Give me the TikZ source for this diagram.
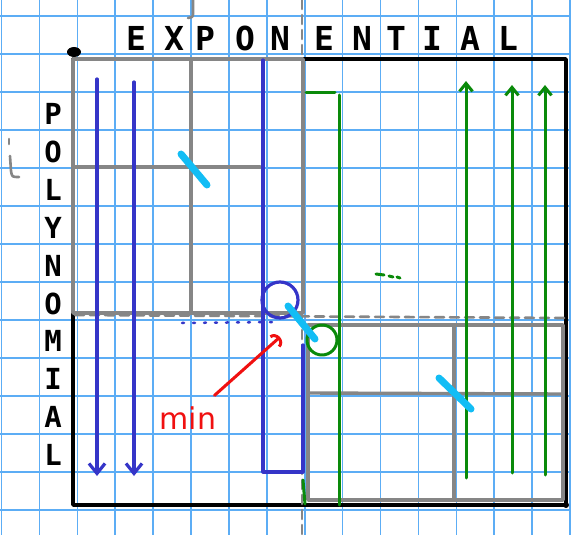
\documentclass[tikz,border=0pt]{standalone}
\usepackage{fontspec}
\usepackage{tikz}
\usetikzlibrary{arrows.meta}
\newfontfamily\sketchfont{DejaVu Sans Mono}
\newfontfamily\notefont{DejaVu Sans}
\definecolor{sketchgrid}{HTML}{5CADF5}
\definecolor{sketchgray}{HTML}{868686}
\definecolor{polyblue}{HTML}{3535C8}
\definecolor{expgreen}{HTML}{0A8A0A}
\definecolor{markcyan}{HTML}{12BDF5}
\definecolor{notered}{HTML}{F01010}
\tikzset{
  gridline/.style={draw=sketchgrid, line width=1.6pt},
  frameline/.style={draw=black, line width=3.8pt},
  blockline/.style={draw=sketchgray, line width=3.4pt},
  splitline/.style={draw=sketchgray, line width=2.6pt, dash pattern=on 9pt off 6pt},
  polyline/.style={draw=polyblue, line width=3.2pt},
  polyarrow/.style={polyline, -{Straight Barb[length=10pt,width=16pt]}},
  expline/.style={draw=expgreen, line width=3pt},
  exparrow/.style={expline, -{Straight Barb[length=8pt,width=13pt]}},
  cutmark/.style={draw=markcyan, line width=7pt, line cap=round},
  notearrow/.style={draw=notered, line width=3pt, -{Arc Barb[length=7pt,width=16pt]}},
  toplabel/.style={font=\sketchfont\bfseries\fontsize{33}{33}\selectfont, inner sep=0pt},
  sidelabel/.style={font=\sketchfont\bfseries\fontsize{29}{29}\selectfont, inner sep=0pt},
  notetext/.style={font=\notefont\fontsize{30}{30}\selectfont, text=notered, inner sep=0pt}
}
\begin{document}
\begin{tikzpicture}[x=1pt, y=-1pt, line cap=round, line join=round]
  \useasboundingbox (0,0) rectangle (571,535);
  \fill[white] (0,0) rectangle (571,535);
  % paper grid
  \foreach \gx in {0,...,15} \draw[gridline] ({1.5+37.9*\gx},0) -- ({1.5+37.9*\gx},535);
  \foreach \gy in {0,...,13} \draw[gridline] (0,{16+38*\gy}) -- (571,{16+38*\gy});
  % outer frame
  \draw[frameline] (73,59) rectangle (566,505);
  \fill (74,52) ellipse (7pt and 5pt);
  \fill (566,505) circle (3pt);
  % gray blocks
  \draw[blockline] (73,59) rectangle (303,313);
  \draw[blockline] (75,167) -- (260,167);
  \draw[blockline] (191,61) -- (191,313);
  \draw[blockline] (308,325) rectangle (563,500);
  \draw[blockline] (308,393) -- (561,394);
  \draw[blockline] (454,325) -- (454,500);
  % split lines
  \draw[splitline] (302,0) -- (302,535);
  \draw[splitline] (75,315) -- (565,318);
  \draw[blockline, line width=2.6pt] (193,0) -- (193,13) .. controls (193,17) .. (188,18);
  \draw[blockline, line width=2.6pt] (9,139) -- (9,144);
  \draw[blockline, line width=2.6pt] (10,156) -- (11,171) .. controls (12,177) .. (19,177);
  % polynomial side
  \draw[polyarrow] (97,79) -- (97,476);
  \draw[polyarrow] (134,82) -- (134,476);
  \draw[polyline] (263,60) -- (263,472) -- (303,472) -- (303,345);
  \draw[polyline, line width=2.5pt, dash pattern=on 2pt off 9pt] (182,323) -- (272,322);
  \draw[polyline] (280,300) circle (18pt);
  % exponential side
  \draw[expline] (306,93) -- (335,93);
  \draw[expline] (339,95) -- (339,505);
  \draw[exparrow] (466,478) -- (466,81);
  \draw[exparrow] (512,473) -- (512,85);
  \draw[exparrow] (545,475) -- (545,85);
  \draw[expline] (303,480) -- (305,504);
  \draw[expline] (376,274) -- (384,275);
  \draw[expline] (389,276) -- (393,277);
  \draw[expline] (397,277) -- (400,278);
  \draw[expline] (322,340) circle (15pt);
  % cut marks
  \draw[cutmark] (181,154) -- (207,185);
  \draw[cutmark] (288,306) -- (315,339);
  \draw[cutmark] (439,378) -- (471,409);
  % note
  \node[notetext] (mintext) at (188,418) {min};
  \coordinate (minpoint) at (280,337);
  \draw[notearrow] ([xshift=-2pt,yshift=11pt]mintext.north east) -- (minpoint);
  % labels
  \foreach \ch/\lx in {E/136,X/174,P/205,O/245,N/280,E/324,N/362,T/396,I/432,A/470,L/508}
    \node[toplabel] (exp\lx) at (\lx,38) {\ch};
  \foreach \ch [count=\i from 0] in {P,O,L,Y,N,O,M,I,A,L}
    \node[sidelabel] (poly\i) at (53,{114+37.9*\i}) {\ch};
\end{tikzpicture}
\end{document}
